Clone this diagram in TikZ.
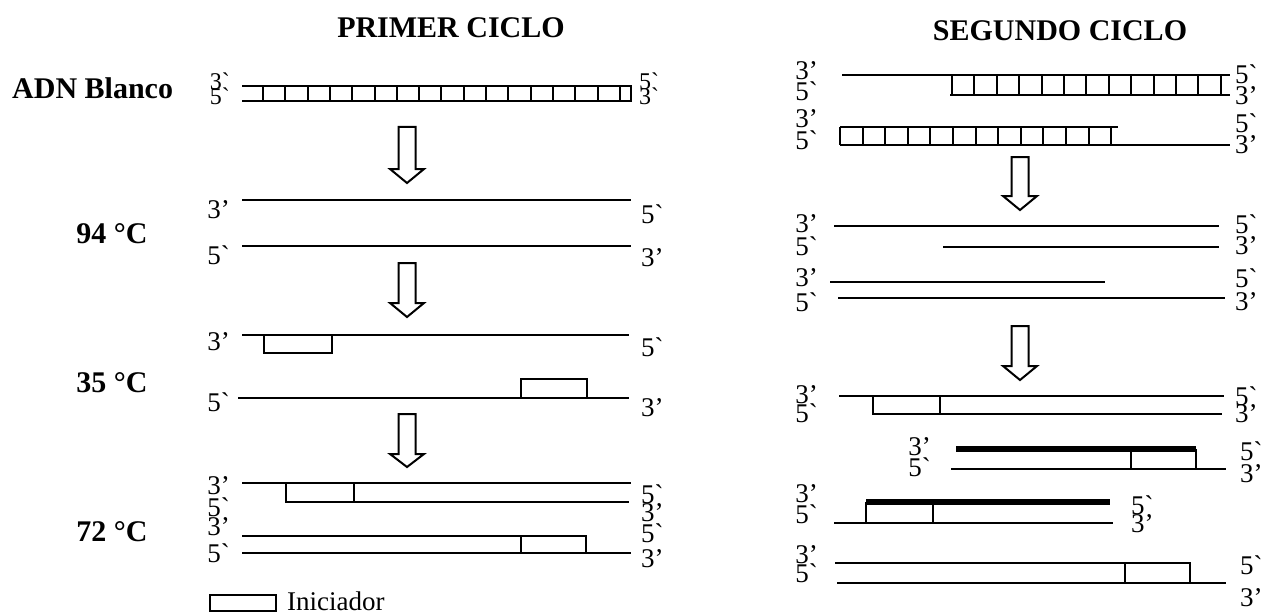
\documentclass[tikz,border=0pt]{standalone}
\usepackage{fontspec}
\setmainfont{Liberation Serif}[Ligatures=TeXOff]
\newcommand\gv{\symbol{96}}
\begin{document}
\begin{tikzpicture}[x=1pt,y=-1pt,
  lab/.style={inner sep=0pt,font=\fontsize{27}{27}\selectfont},
  labL/.style={lab,anchor=east},
  labR/.style={lab,anchor=west},
  hd/.style={inner sep=0pt,font=\fontsize{30}{30}\selectfont\bfseries},
  strand/.style={line width=2.4pt},
  newthick/.style={line width=5.5pt},
  primer/.style={draw,line width=2pt,fill=white},
  rung/.style={line width=2pt},
  blockarrow/.style={draw,line width=2pt,fill=white,line join=miter}]
\useasboundingbox (0,0) rectangle (1276,615);
\fill[white] (0,0) rectangle (1276,615);

% hollow down arrow: centre x, top, start of head, tip
\newcommand\dnarrow[4]{%
  \draw[blockarrow] (#1-8.5,#2) -- (#1+8.5,#2) -- (#1+8.5,#3) -- (#1+17,#3)
    -- (#1,#4) -- (#1-17,#3) -- (#1-8.5,#3) -- cycle;}
% ladder rungs: first x, pitch, last index, top y, bottom y
\newcommand\rungs[5]{%
  \foreach \k in {0,...,#3} \draw[rung] ({#1+#2*\k},#4) -- ({#1+#2*\k},#5);}

% ---------- titles ----------
\node[hd] (t1) at (451,28) {PRIMER CICLO};
\node[hd] (t2) at (1060,31) {SEGUNDO CICLO};

% ---------- first cycle ----------
\node[hd,anchor=west] (adn) at (12,88) {ADN Blanco};
\node[labL,font=\fontsize{24}{24}\selectfont] (a1) at (230,81) {3\gv};
\node[labL,font=\fontsize{24}{24}\selectfont] (a2) at (230,96) {5\gv};
\node[labR,font=\fontsize{24}{24}\selectfont] (a3) at (639,81) {5\gv};
\node[labR,font=\fontsize{24}{24}\selectfont] (a4) at (639,96) {3\gv};
\draw[strand] (242,86) -- (632,86);
\draw[strand] (242,101) -- (632,101);
\rungs{263}{22.3}{16}{86}{101}
\draw[rung] (631,86) -- (631,101);

\dnarrow{407}{127}{169}{183}

\node[hd] (c94) at (112,234) {94 °C};
\node[labL] (b1) at (230,210) {3’};
\node[labL] (b2) at (230,255) {5\gv};
\node[labR] (b3) at (641,214) {5\gv};
\node[labR] (b4) at (641,258) {3’};
\draw[strand] (242,200) -- (631,200);
\draw[strand] (242,246) -- (631,246);

\dnarrow{407}{263}{303}{317}

\node[hd] (c35) at (112,383) {35 °C};
\node[labL] (d1) at (230,342) {3’};
\node[labR] (d2) at (641,347) {5\gv};
\node[labL] (d3) at (230,402) {5\gv};
\node[labR] (d4) at (641,408) {3’};
\draw[strand] (242,335) -- (629,335);
\draw[primer] (264,335) rectangle (332,353);
\draw[strand] (238,398) -- (629,398);
\draw[primer] (521,379) rectangle (587,398);

\dnarrow{407}{414}{454}{467}

\node[hd] (c72) at (112,532) {72 °C};
\node[labL] (e1) at (230,486) {3’};
\node[labL] (e2) at (230,507) {5\gv};
\node[labL] (e3) at (230,527) {3’};
\node[labL] (e4) at (230,553) {5\gv};
\node[labR] (e5) at (641,494) {5\gv};
\node[labR] (e6) at (641,513) {3’};
\node[labR] (e7) at (641,533) {5\gv};
\node[labR] (e8) at (641,559) {3’};
\draw[strand] (242,483) -- (631,483);
\draw[primer] (286,483) rectangle (354,502);
\draw[strand] (354,502) -- (629,502);
\draw[strand] (242,536) -- (586,536);
\draw[primer] (521,536) rectangle (586,553);
\draw[strand] (242,553) -- (631,553);

\draw[primer] (210,595) rectangle (276,611);
\node[lab,anchor=west] (leg) at (287,601) {Iniciador};

% ---------- second cycle ----------
\node[labL] (f1) at (818,71) {3’};
\node[labL] (f2) at (818,91) {5\gv};
\node[labL] (f3) at (818,119) {3’};
\node[labL] (f4) at (818,140) {5\gv};
\node[labR] (f5) at (1235,74) {5\gv};
\node[labR] (f6) at (1235,96) {3’};
\node[labR] (f7) at (1235,123) {5\gv};
\node[labR] (f8) at (1235,145) {3’};
\draw[strand] (842,75) -- (1230,75);
\draw[strand] (950,95) -- (1230,95);
\rungs{952}{22.4}{12}{75}{95}
\draw[strand] (840,127) -- (1118,127);
\draw[strand] (840,145) -- (1230,145);
\rungs{840}{22.6}{12}{127}{145}

\dnarrow{1020}{157}{196}{210}

\node[labL] (g1) at (818,224) {3’};
\node[labL] (g2) at (818,246) {5\gv};
\node[labL] (g3) at (818,278) {3’};
\node[labL] (g4) at (818,302) {5\gv};
\node[labR] (g5) at (1235,224) {5\gv};
\node[labR] (g6) at (1235,246) {3’};
\node[labR] (g7) at (1235,278) {5\gv};
\node[labR] (g8) at (1235,302) {3’};
\draw[strand] (834,226) -- (1219,226);
\draw[strand] (943,247) -- (1219,247);
\draw[strand] (830,282) -- (1105,282);
\draw[strand] (838,298) -- (1225,298);

\dnarrow{1020}{326}{366}{380}

% group A
\node[labL] (h1) at (818,395) {3’};
\node[labL] (h2) at (818,413) {5\gv};
\node[labR] (h3) at (1235,396) {5\gv};
\node[labR] (h4) at (1235,414) {3’};
\draw[strand] (839,396) -- (1224,396);
\draw[primer] (873,396) rectangle (940,414);
\draw[strand] (940,414) -- (1222,414);

% group B
\node[labL] (i1) at (931,447) {3’};
\node[labL] (i2) at (931,467) {5\gv};
\node[labR] (i3) at (1240,451) {5\gv};
\node[labR] (i4) at (1240,474) {3’};
\draw[strand] (951,469) -- (1226,469);
\draw[primer] (1131,450) rectangle (1196,469);
\draw[newthick] (956,449) -- (1196,449);

% group C
\node[labL] (j1) at (818,494) {3’};
\node[labL] (j2) at (818,514) {5\gv};
\node[labR] (j3) at (1131,505) {5\gv};
\node[labR] (j4) at (1131,524) {3’};
\draw[strand] (834,523) -- (1113,523);
\draw[primer] (866,503) rectangle (933,523);
\draw[newthick] (866,502) -- (1110,502);

% group D
\node[labL] (k1) at (818,555) {3’};
\node[labL] (k2) at (818,573) {5\gv};
\node[labR] (k3) at (1240,565) {5\gv};
\node[labR] (k4) at (1240,598) {3’};
\draw[strand] (835,563) -- (1190,563);
\draw[primer] (1125,563) rectangle (1190,583);
\draw[strand] (837,583) -- (1226,583);
\end{tikzpicture}
\end{document}
